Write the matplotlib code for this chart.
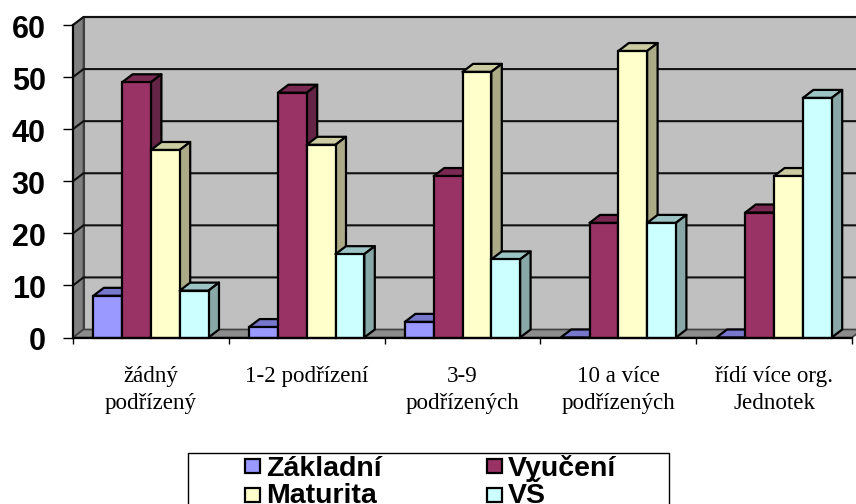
import matplotlib
matplotlib.use("Agg")
import numpy as np
import matplotlib.pyplot as plt
from matplotlib.patches import Polygon, Rectangle
from matplotlib.transforms import ScaledTranslation

categories = ["žádný\npodřízený", "1-2 podřízení", "3-9\npodřízených", "10 a více\npodřízených", "řídí více org.\nJednotek"]
series_names = ["Základní", "Vyučení", "Maturita", "VŠ"]
zakladni = [8, 2, 3, 0, 0]
vyuceni = [49, 47, 31, 22, 24]
maturita = [36, 37, 51, 55, 31]
vs = [9, 16, 15, 22, 46]
y_ticks = [0, 10, 20, 30, 40, 50, 60]

front_colors = ["#9999FF", "#993366", "#FFFFCC", "#CCFFFF"]
top_colors = ["#7777CC", "#7A2952", "#CCCCA3", "#9CC4C4"]
side_colors = ["#5C5C99", "#642445", "#ABAB88", "#88A8A8"]

W, H = 856, 504
fig = plt.figure(figsize=(W / 100, H / 100), dpi=100)
ax_left, ax_right, ax_top, ax_bottom = 73, 852, 25, 337.5
ax = fig.add_axes([ax_left / W, 1 - ax_bottom / H, (ax_right - ax_left) / W, (ax_bottom - ax_top) / H])
ax.set_xlim(0, 5)
ax.set_ylim(0, 60)

# 3d depth in data units
dx = 10.5 * 5 / (ax_right - ax_left)
dy = 8 * 60 / (ax_bottom - ax_top)
bar_w = 28.8 * 5 / (ax_right - ax_left)

# walls and floor
ax.add_patch(Polygon([(dx, dy), (5 + dx, dy), (5 + dx, 60 + dy), (dx, 60 + dy)], fc="#C0C0C0", ec="#404040", lw=1.5, clip_on=False, zorder=1))
ax.add_patch(Polygon([(0, 0), (dx, dy), (dx, 60 + dy), (0, 60)], fc="#808080", ec="#404040", lw=1.2, clip_on=False, zorder=1))
ax.add_patch(Polygon([(0, 0), (5, 0), (5 + dx, dy), (dx, dy)], fc="#8C8C8C", ec="#404040", lw=1.2, clip_on=False, zorder=1))
for v in y_ticks[1:]:
    ax.plot([0, dx, 5 + dx], [v, v + dy, v + dy], color="#111111", lw=1.5, clip_on=False, zorder=2)

# bars, left to right so each front covers the side of the one before
all_values = [zakladni, vyuceni, maturita, vs]
z = 3
for c in range(len(categories)):
    start = c + 0.5 - 2 * bar_w
    for s, values in enumerate(all_values):
        v = values[c]
        x0 = start + s * bar_w
        x1 = x0 + bar_w
        ax.add_patch(Polygon([(x0, v), (x1, v), (x1 + dx, v + dy), (x0 + dx, v + dy)], fc=top_colors[s], ec="black", lw=1.6, joinstyle="round", clip_on=False, zorder=z))
        ax.add_patch(Polygon([(x1, 0), (x1 + dx, dy), (x1 + dx, v + dy), (x1, v)], fc=side_colors[s], ec="black", lw=1.6, joinstyle="round", clip_on=False, zorder=z))
        ax.add_patch(Rectangle((x0, 0), bar_w, v, fc=front_colors[s], ec="black", lw=1.6, clip_on=False, zorder=z))
        z += 1

for name in ["top", "right"]:
    ax.spines[name].set_visible(False)
for name in ["left", "bottom"]:
    ax.spines[name].set_linewidth(1.6)
    ax.spines[name].set_zorder(100)

ax.set_yticks(y_ticks)
ax.set_yticklabels(y_ticks, family="Liberation Sans", fontweight="bold", fontsize=22)
ax.tick_params(axis="y", length=7.2, width=1, pad=12.5)
# tick numbers sit a little under their ticks
for lab in ax.get_yticklabels():
    lab.set_transform(lab.get_transform() + ScaledTranslation(0, -1.5 / 100, fig.dpi_scale_trans))
ax.set_xticks(range(6))
ax.set_xticklabels([])
ax.tick_params(axis="x", length=4, width=1)

for i, label in enumerate(categories):
    ax.annotate(label, (i + 0.5, 0), xytext=(0, -20.5), textcoords="offset points", ha="center", va="top",
                family="Liberation Serif", fontsize=16.6, linespacing=1.39, annotation_clip=False)

# legend in pixel coordinates
overlay = fig.add_axes([0, 0, 1, 1])
overlay.set_xlim(0, W)
overlay.set_ylim(H, 0)
overlay.axis("off")
overlay.patch.set_visible(False)
overlay.add_patch(Rectangle((188.5, 452.5), 481, 60, fc="white", ec="black", lw=1))
swatch_x = [245, 487, 245, 487]
text_x = [266, 508, 266, 508]
row_y = [466, 466, 493, 493]
swatch_y = [466, 466, 495, 495]
for s, name in enumerate(series_names):
    overlay.add_patch(Rectangle((swatch_x[s], swatch_y[s] - 7), 15, 14, fc=front_colors[s], ec="black", lw=1.6))
    overlay.text(text_x[s], row_y[s], name, family="Liberation Sans", fontweight="bold", fontsize=20.5, va="center_baseline", ha="left")

fig.savefig("out.png", dpi=100)
